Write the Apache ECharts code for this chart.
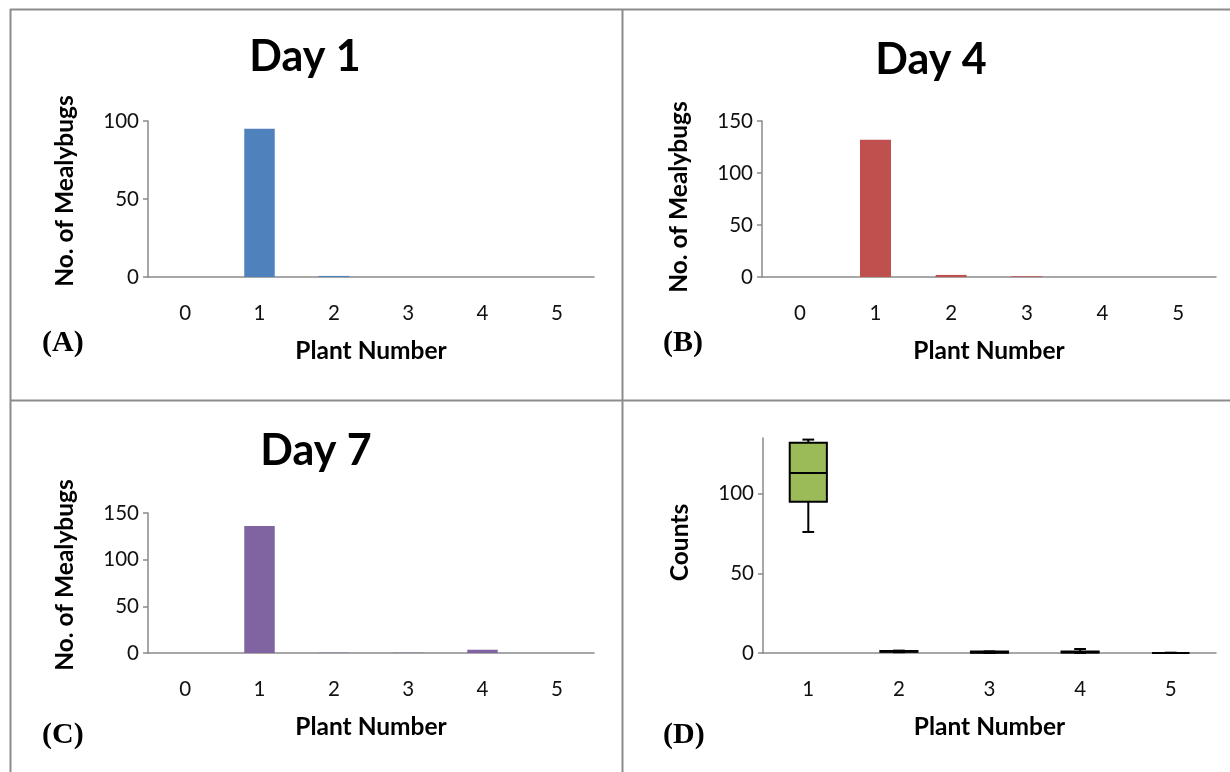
<!DOCTYPE html>
<html><head><meta charset="utf-8">
<script src="https://cdn.jsdelivr.net/npm/echarts@6/dist/echarts.min.js"></script>
<style>html,body{margin:0;padding:0;background:#fff}#c{width:1230px;height:772px}</style>
</head><body><div id="c"></div>
<script>
// ---- data ----
const plantsABC = ['0', '1', '2', '3', '4', '5'];
const plantsD = ['1', '2', '3', '4', '5'];
const day1 = [0, 95, 0.7, 0, 0, 0];
const day4 = [0, 132, 2, 0.7, 0, 0];
const day7 = [0, 136, 0.3, 0.3, 3.5, 0];
// box stats per plant: [min, q1, median, q3, max]
const boxMin = [76, 0.5, 0, 0, 0];
const boxQ1 = [95, 0.8, 0.2, 0.3, 0];
const boxMed = [113, 1, 0.5, 0.5, 0];
const boxQ3 = [132, 1.2, 1, 1, 0];
const boxMax = [134, 1.5, 1, 2.5, 0.2];
const ticksA = [0, 50, 100];
const ticksBC = [0, 50, 100, 150];
const ticksD = [0, 50, 100];
const titles = ['Day 1', 'Day 4', 'Day 7'];
const panelLabels = ['(A)', '(B)', '(C)', '(D)'];
const yNameBars = 'No. of Mealybugs';
const yNameBox = 'Counts';
const xName = 'Plant Number';

// ---- styles ----
const FONT = 'Lato';
const AXC = '#8a8a8a';
const grids = [
  {left: 148, top: 121, width: 446, height: 156},
  {left: 762, top: 121, width: 454, height: 156},
  {left: 148, top: 513, width: 446, height: 140},
  {left: 763, top: 438, width: 453, height: 215}
];

function xAxis(i, cats) {
  return {
    type: 'category', gridIndex: i, data: cats, boundaryGap: true,
    axisLine: {lineStyle: {color: AXC, width: 1.5}},
    axisTick: {length: 8, lineStyle: {color: AXC, width: 1.5}},
    axisLabel: {margin: 26, fontFamily: FONT, fontSize: 20.5, color: '#111'},
    name: xName, nameLocation: 'middle', nameGap: 62,
    nameTextStyle: {fontFamily: FONT, fontSize: 24.5, fontWeight: 'bold', color: '#000'},
    splitLine: {show: false}
  };
}
function yAxis(i, ticks, max, name, gap, shift) {
  return {
    type: 'value', gridIndex: i, min: 0, max: max, interval: 50,
    axisLine: {show: true, lineStyle: {color: AXC, width: 1.5}},
    axisTick: {show: true, length: 5, customValues: ticks, lineStyle: {color: AXC, width: 1.5}},
    axisLabel: {margin: 9, fontFamily: FONT, fontSize: 20.5, color: '#111', customValues: ticks},
    splitLine: {show: false},
    name: name, nameLocation: 'middle', nameGap: gap,
    nameTextStyle: {fontFamily: FONT, fontSize: 24.5, fontWeight: 'bold', color: '#000',
      padding: [0, 0, 0, shift]}
  };
}

function renderBox(params, api) {
  const x = api.value(0);
  const pMin = api.coord([x, api.value(1)]);
  const pQ1 = api.coord([x, api.value(2)]);
  const pMed = api.coord([x, api.value(3)]);
  const pQ3 = api.coord([x, api.value(4)]);
  const pMax = api.coord([x, api.value(5)]);
  const cat = api.size([1, 0])[0];
  const bw = cat * 0.41, cw = cat * 0.13;
  const cx = pMed[0];
  const ls = {stroke: '#000', lineWidth: 2};
  return {
    type: 'group',
    children: [
      {type: 'line', shape: {x1: cx, y1: pMax[1], x2: cx, y2: pQ3[1]}, style: ls},
      {type: 'line', shape: {x1: cx, y1: pQ1[1], x2: cx, y2: pMin[1]}, style: ls},
      {type: 'line', shape: {x1: cx - cw / 2, y1: pMax[1], x2: cx + cw / 2, y2: pMax[1]}, style: ls},
      {type: 'line', shape: {x1: cx - cw / 2, y1: pMin[1], x2: cx + cw / 2, y2: pMin[1]}, style: ls},
      {type: 'rect', shape: {x: cx - bw / 2, y: pQ3[1], width: bw, height: pQ1[1] - pQ3[1]},
        style: {fill: '#9BBB59', stroke: '#000', lineWidth: 2}},
      {type: 'line', shape: {x1: cx - bw / 2, y1: pMed[1], x2: cx + bw / 2, y2: pMed[1]}, style: ls}
    ]
  };
}

const boxData = plantsD.map((p, i) => [i, boxMin[i], boxQ1[i], boxMed[i], boxQ3[i], boxMax[i]]);

const borderStyle = {stroke: '#8c8c8c', lineWidth: 2};
const titleFont = 'bold 43px ' + FONT;
const labelFont = 'bold 30px "Liberation Serif"';

const option = {
  animation: false,
  backgroundColor: '#fff',
  grid: grids,
  xAxis: [xAxis(0, plantsABC), xAxis(1, plantsABC), xAxis(2, plantsABC), xAxis(3, plantsD)],
  yAxis: [
    yAxis(0, ticksA, 100, yNameBars, 70, 16),
    yAxis(1, ticksBC, 150, yNameBars, 70, 4),
    yAxis(2, ticksBC, 150, yNameBars, 70, 16),
    yAxis(3, ticksD, 135, yNameBox, 70, 6)
  ],
  series: [
    {type: 'bar', xAxisIndex: 0, yAxisIndex: 0, data: day1, barWidth: '41%', itemStyle: {color: '#4F81BD'}},
    {type: 'bar', xAxisIndex: 1, yAxisIndex: 1, data: day4, barWidth: '41%', itemStyle: {color: '#C0504D'}},
    {type: 'bar', xAxisIndex: 2, yAxisIndex: 2, data: day7, barWidth: '41%', itemStyle: {color: '#8064A2'}},
    {type: 'custom', xAxisIndex: 3, yAxisIndex: 3, data: boxData, renderItem: renderBox,
      encode: {x: 0, y: [1, 2, 3, 4, 5]}}
  ],
  graphic: [
    {type: 'line', shape: {x1: 10, y1: 9.5, x2: 1230, y2: 9.5}, style: borderStyle, silent: true},
    {type: 'line', shape: {x1: 10.5, y1: 9, x2: 10.5, y2: 772}, style: borderStyle, silent: true},
    {type: 'line', shape: {x1: 622.5, y1: 9, x2: 622.5, y2: 772}, style: borderStyle, silent: true},
    {type: 'line', shape: {x1: 10, y1: 400.5, x2: 1230, y2: 400.5}, style: borderStyle, silent: true},
    {type: 'text', x: 305, y: 57, style: {text: titles[0], font: titleFont, fill: '#000', textAlign: 'center', textVerticalAlign: 'middle'}},
    {type: 'text', x: 931, y: 60, style: {text: titles[1], font: titleFont, fill: '#000', textAlign: 'center', textVerticalAlign: 'middle'}},
    {type: 'text', x: 316, y: 451, style: {text: titles[2], font: titleFont, fill: '#000', textAlign: 'center', textVerticalAlign: 'middle'}},
    {type: 'text', x: 42, y: 343, style: {text: panelLabels[0], font: labelFont, fill: '#000', textAlign: 'left', textVerticalAlign: 'middle'}},
    {type: 'text', x: 663, y: 343, style: {text: panelLabels[1], font: labelFont, fill: '#000', textAlign: 'left', textVerticalAlign: 'middle'}},
    {type: 'text', x: 42, y: 735, style: {text: panelLabels[2], font: labelFont, fill: '#000', textAlign: 'left', textVerticalAlign: 'middle'}},
    {type: 'text', x: 663, y: 735, style: {text: panelLabels[3], font: labelFont, fill: '#000', textAlign: 'left', textVerticalAlign: 'middle'}}
  ]
};
const chart = echarts.init(document.getElementById('c'), null, {renderer: 'canvas'});
chart.setOption(option);
</script></body></html>
